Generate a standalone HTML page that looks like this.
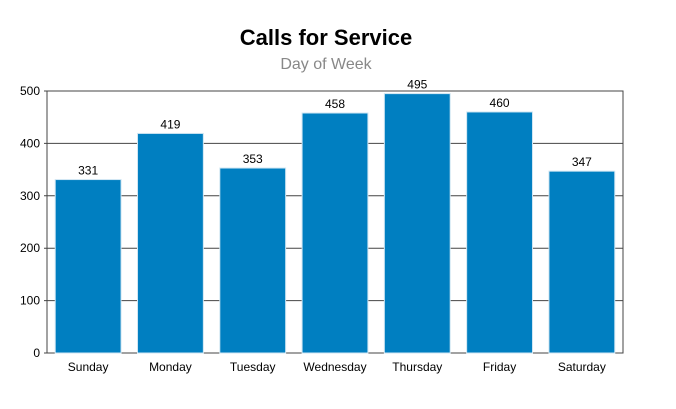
<!DOCTYPE html>
<html><head><meta charset="utf-8"><style>
body{margin:0;background:#fff;width:676px;height:404px;overflow:hidden}
text{font-family:"Liberation Sans",Arial,sans-serif}
</style></head><body>
<svg id="chart" width="676" height="404" xmlns="http://www.w3.org/2000/svg">
<text x="326" y="45" text-anchor="middle" font-size="22" font-weight="bold" fill="#000">Calls for Service</text>
<text x="326" y="69" text-anchor="middle" font-size="16" fill="#888">Day of Week</text>
<g id="grid"></g><g id="bars"></g><g id="labels"></g>
</svg>
<script>
const categories=["Sunday","Monday","Tuesday","Wednesday","Thursday","Friday","Saturday"];
const values=[331,419,353,458,495,460,347];
const yTicks=[0,100,200,300,400,500];
const L=47,R=623,T=91,B=353,yMax=500;
const y=v=>B-(v/yMax)*(B-T);
const band=(R-L)/categories.length;
const x=i=>L+i*band;
const NS="http://www.w3.org/2000/svg";
const svg=document.getElementById('chart');
function mk(tag,attrs,parent){const e=document.createElementNS(NS,tag);for(const k in attrs)e.setAttribute(k,attrs[k]);parent.appendChild(e);return e;}
const grid=document.getElementById('grid'),bars=document.getElementById('bars'),labels=document.getElementById('labels');
yTicks.forEach(t=>{
 const ln=mk('line',{x1:L-3,x2:R,y1:y(t),y2:y(t),stroke:'#444','stroke-width':1},grid);
 
 
 const tx=mk('text',{x:L-7,y:y(t)+4,'text-anchor':'end','font-size':12,fill:'#000'},grid);
 tx.textContent=t;
 
 
});
const frame=mk('rect',{x:L,y:T,width:R-L,height:B-T,fill:'none',stroke:'#444','stroke-width':1},grid);


categories.forEach((c,i)=>{
 const bw=band*0.8,bx=x(i)+(band-bw)/2;
 const r=mk('rect',{x:bx,y:y(values[i]),width:bw,height:B-y(values[i]),fill:'#007fc1',stroke:'#cfe6f3','stroke-width':1},bars);
 
 
 const v=mk('text',{x:bx+bw/2,y:y(values[i])-5,'text-anchor':'middle','font-size':12,fill:'#000'},labels);
 v.textContent=values[i];
 
 
 const cl=mk('text',{x:bx+bw/2,y:B+18,'text-anchor':'middle','font-size':12,fill:'#000'},labels);
 cl.textContent=c;
 
 
});
</script>
</body></html>
